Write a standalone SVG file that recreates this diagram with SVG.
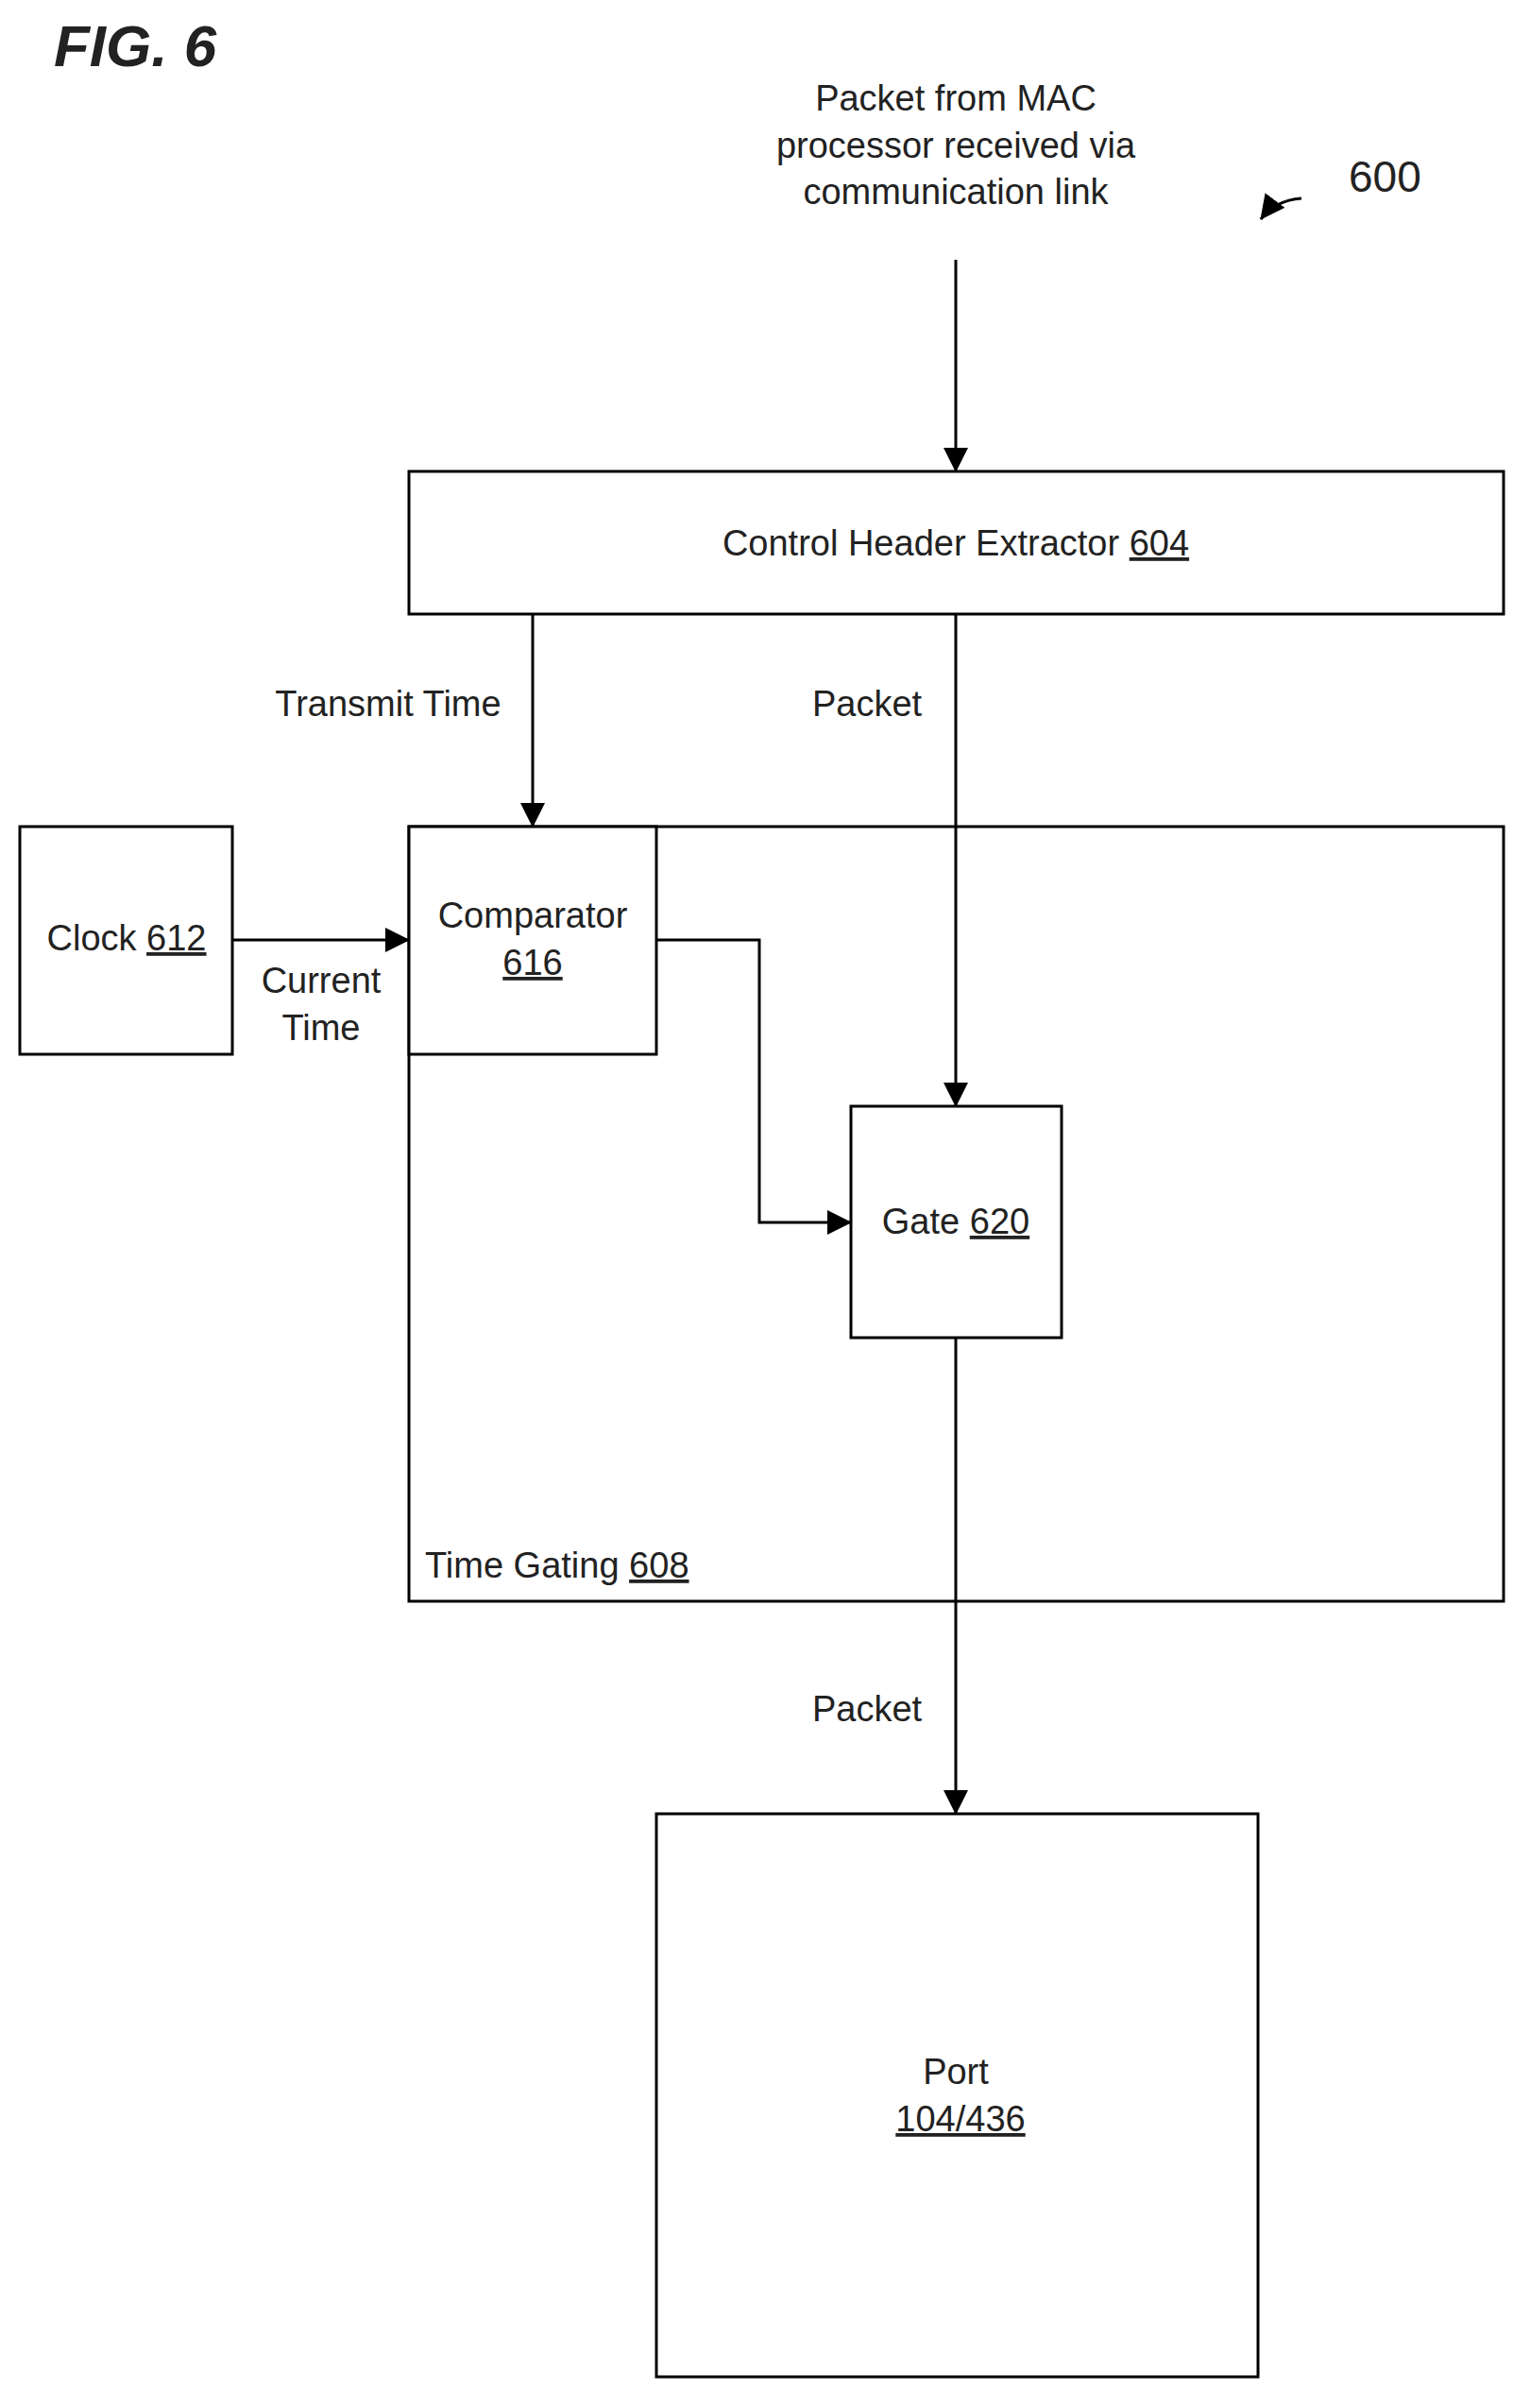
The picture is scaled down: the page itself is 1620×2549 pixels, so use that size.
<svg xmlns="http://www.w3.org/2000/svg" width="1620" height="2549" viewBox="0 0 1620 2549">
<style>
text{font-family:"Liberation Sans",Arial,sans-serif;font-size:38px;fill:#222}
.m{text-anchor:middle}
.b{fill:#fff;stroke:#000;stroke-width:3}
.l{fill:none;stroke:#000;stroke-width:3}
</style>
<defs><marker id="a" markerWidth="10" markerHeight="10" refX="9" refY="5" orient="auto" markerUnits="userSpaceOnUse" viewBox="0 0 10 10"><path d="M0,0L10,5L0,10z" fill="#000"/></marker>
<marker id="ah" markerWidth="26" markerHeight="26" refX="25" refY="13" orient="auto" markerUnits="userSpaceOnUse" viewBox="0 0 26 26"><path d="M0,0L26,13L0,26z" fill="#000"/></marker></defs>
<rect width="1620" height="2549" fill="#fff"/>
<text x="57" y="70" style="font-size:62px;font-style:italic;font-weight:bold">FIG. 6</text>
<text class="m" x="1012" y="117">Packet from MAC</text>
<text class="m" x="1012" y="167">processor received via</text>
<text class="m" x="1012" y="216">communication link</text>
<text x="1428" y="203" style="font-size:46px">600</text>
<g id="connectors">
<path class="l" d="M1378,210 Q1350,212 1335,232" marker-end="url(#ah)"/>
<path class="l" d="M1012,275V499" marker-end="url(#ah)"/>
<path class="l" d="M564,650V875" marker-end="url(#ah)"/>
<path class="l" d="M1012,650V1171" marker-end="url(#ah)"/>
<path class="l" d="M246,995H433" marker-end="url(#ah)"/>
<path class="l" d="M695,995H804V1294H901" marker-end="url(#ah)"/>
<path class="l" d="M1012,1416V1920" marker-end="url(#ah)"/>
<text x="411" y="758" class="m">Transmit Time</text>
<text x="918" y="758" class="m">Packet</text>
<text x="340" y="1051" class="m">Current</text>
<text x="340" y="1101" class="m">Time</text>
<text x="918" y="1822" class="m">Packet</text>
</g>
<g id="n604"><rect class="b" x="433" y="499" width="1159" height="151"/><text class="m" x="1012" y="588">Control Header Extractor <tspan text-decoration="underline">604</tspan></text></g>
<g id="n608"><rect class="l" x="433" y="875" width="1159" height="820"/><text x="450" y="1670">Time Gating <tspan text-decoration="underline">608</tspan></text></g>
<g id="n612"><rect class="b" x="21" y="875" width="225" height="241"/><text class="m" x="134" y="1006">Clock <tspan text-decoration="underline">612</tspan></text></g>
<g id="n616"><rect class="b" x="433" y="875" width="262" height="241"/><text class="m" x="564" y="982">Comparator</text><text class="m" x="564" y="1032" text-decoration="underline">616</text></g>
<g id="n620"><rect class="b" x="901" y="1171" width="223" height="245"/><text class="m" x="1012" y="1306">Gate <tspan text-decoration="underline">620</tspan></text></g>
<g id="port"><rect class="b" x="695" y="1920" width="637" height="596"/><text class="m" x="1012" y="2206">Port</text><text class="m" x="1017" y="2256" text-decoration="underline">104/436</text></g>
</svg>
